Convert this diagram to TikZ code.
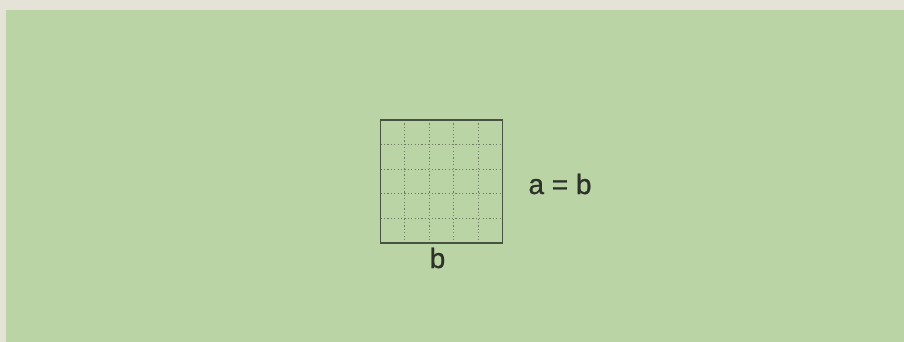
\documentclass[tikz,border=0pt]{standalone}
\usepackage{fontspec}
\setmainfont{Liberation Sans}
\newfontfamily\lblfont[FakeBold=0.9]{Liberation Sans}
\definecolor{paper}{RGB}{229,226,215}
\definecolor{panel}{RGB}{187,212,166}
\definecolor{edge}{RGB}{72,82,64}
\definecolor{gridc}{RGB}{110,125,98}
\definecolor{ink}{RGB}{45,50,40}
\tikzset{
  lbl/.style={font=\lblfont\fontsize{28}{32}\selectfont, text=ink, inner sep=0pt, anchor=base},
  sqbox/.style={draw=edge, line width=1.8pt, minimum width=122pt, minimum height=123pt, inner sep=0pt},
  gridline/.style={draw=gridc, line width=1.1pt, dash pattern=on 1.2pt off 2.2pt}
}
\begin{document}
\begin{tikzpicture}[x=1pt,y=-1pt]
\useasboundingbox (0,0) rectangle (904,342);
\fill[paper] (0,0) rectangle (904,342);
\fill[panel] (6,10) rectangle (904,342);
% grid lines
\foreach \i in {1,2,3,4} {
  \draw[gridline] ({380.5+\i*24.4},120) -- ({380.5+\i*24.4},243);
  \draw[gridline] (380.5,{120+\i*24.6}) -- (502.5,{120+\i*24.6});
}
\node[sqbox] (sq) at (441.5,181.5) {};
\node[lbl] (ab) at (560,194) {a = b};
\node[lbl] (bb) at (437.5,268) {b};
\end{tikzpicture}
\end{document}
